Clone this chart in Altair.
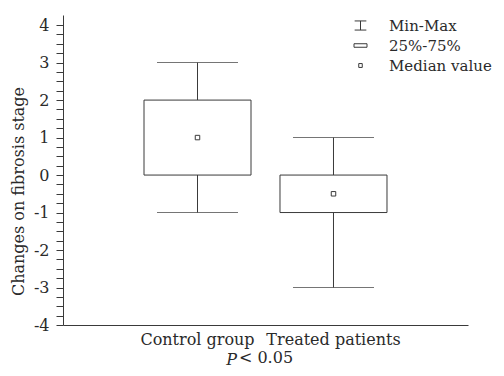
import altair as alt
import pandas as pd

groups = ["Control group", "Treated patients"]
mins = [-1, -3]
q1s = [0, -1]
medians = [1, -0.5]
q3s = [2, 0]
maxs = [3, 1]

legend_items = ["Min-Max", "25%-75%", "Median value"]
legend_shapes = [
    "M-0.9,-0.7L0.9,-0.7M0,-0.7L0,0.7M-0.9,0.7L0.9,0.7",
    "M-1,-0.27L1,-0.27L1,0.27L-1,0.27Z",
    "M-0.27,-0.3L0.27,-0.3L0.27,0.3L-0.27,0.3Z",
]

y_tick_values = [-4 + 0.25 * i for i in range(33)]

FONT = "DejaVu Serif"
INK = "#3a3a3a"
TXT = "#2a2a2a"

df = pd.DataFrame({
    "group": groups, "min": mins, "q1": q1s, "median": medians, "q3": q3s, "max": maxs,
})
leg = pd.DataFrame({"item": legend_items})

x = alt.X("group:N", sort=groups,
          scale=alt.Scale(paddingInner=0.2, paddingOuter=0.589),
          axis=alt.Axis(title="< 0.05", labelAngle=0, ticks=False, labelPadding=6,
                        labelFont=FONT, labelFontSize=16, labelColor=TXT,
                        titleFont=FONT, titleFontSize=16, titleFontWeight="normal",
                        titleColor=TXT, titlePadding=2, domainColor=INK))
yscale = alt.Scale(domain=[-4, 4.27], nice=False, zero=False)
yaxis = alt.Axis(values=y_tick_values, title="Changes on fibrosis stage",
                 labelExpr="datum.value % 1 == 0 ? toString(datum.value) : ''",
                 labelOverlap=False, labelFont=FONT, labelFontSize=16, labelColor=TXT,
                 labelPadding=7, tickSize=7, tickColor=INK, domainColor=INK,
                 titleFont=FONT, titleFontSize=16, titleFontWeight="normal",
                 titleColor=TXT, titleX=-45, titleY=176, titleBaseline="middle",
                 titleAlign="center", grid=False)

base = alt.Chart(df)

whisk = base.mark_rule(color=INK, strokeWidth=1).encode(
    x=x, y=alt.Y("min:Q", scale=yscale, axis=yaxis), y2="max:Q")
box = base.mark_bar(size=107, fill="white", stroke=INK, strokeWidth=1).encode(
    x=x, y=alt.Y("q1:Q", scale=yscale, axis=yaxis), y2="q3:Q")
cap_lo = base.mark_tick(size=81, thickness=1, color=INK, orient="horizontal").encode(
    x=x, y=alt.Y("min:Q", scale=yscale, axis=yaxis))
cap_hi = base.mark_tick(size=81, thickness=1, color=INK, orient="horizontal").encode(
    x=x, y=alt.Y("max:Q", scale=yscale, axis=yaxis))
med = base.mark_point(shape="square", size=20, fill="white", stroke=INK,
                      strokeWidth=1, opacity=1).encode(
    x=x, y=alt.Y("median:Q", scale=yscale, axis=yaxis))

legend_layer = alt.Chart(leg).mark_point(opacity=0).encode(
    shape=alt.Shape("item:N",
                    scale=alt.Scale(domain=legend_items, range=legend_shapes),
                    legend=alt.Legend(title=None, orient="none", legendX=290, legendY=3,
                                      symbolSize=169, symbolFillColor="white",
                                      symbolStrokeColor=INK, symbolStrokeWidth=1,
                                      symbolOpacity=1, labelOffset=21,
                                      labelFont=FONT, labelFontSize=15, labelColor=TXT,
                                      rowPadding=4)))

chart = alt.layer(whisk, box, cap_lo, cap_hi, med, legend_layer).properties(
    width=405, height=310,
    autosize=alt.AutoSizeParams(type="none"),
    padding={"left": 55, "top": 7, "right": 28, "bottom": 43},
    title=alt.TitleParams("P", orient="bottom", font=FONT, fontSize=16,
                          fontStyle="italic", fontWeight="normal", color=TXT,
                          dx=-34, offset=-13),
).configure_view(stroke=None)

chart.save("out.html", embed_options={"renderer": "svg", "actions": False})
